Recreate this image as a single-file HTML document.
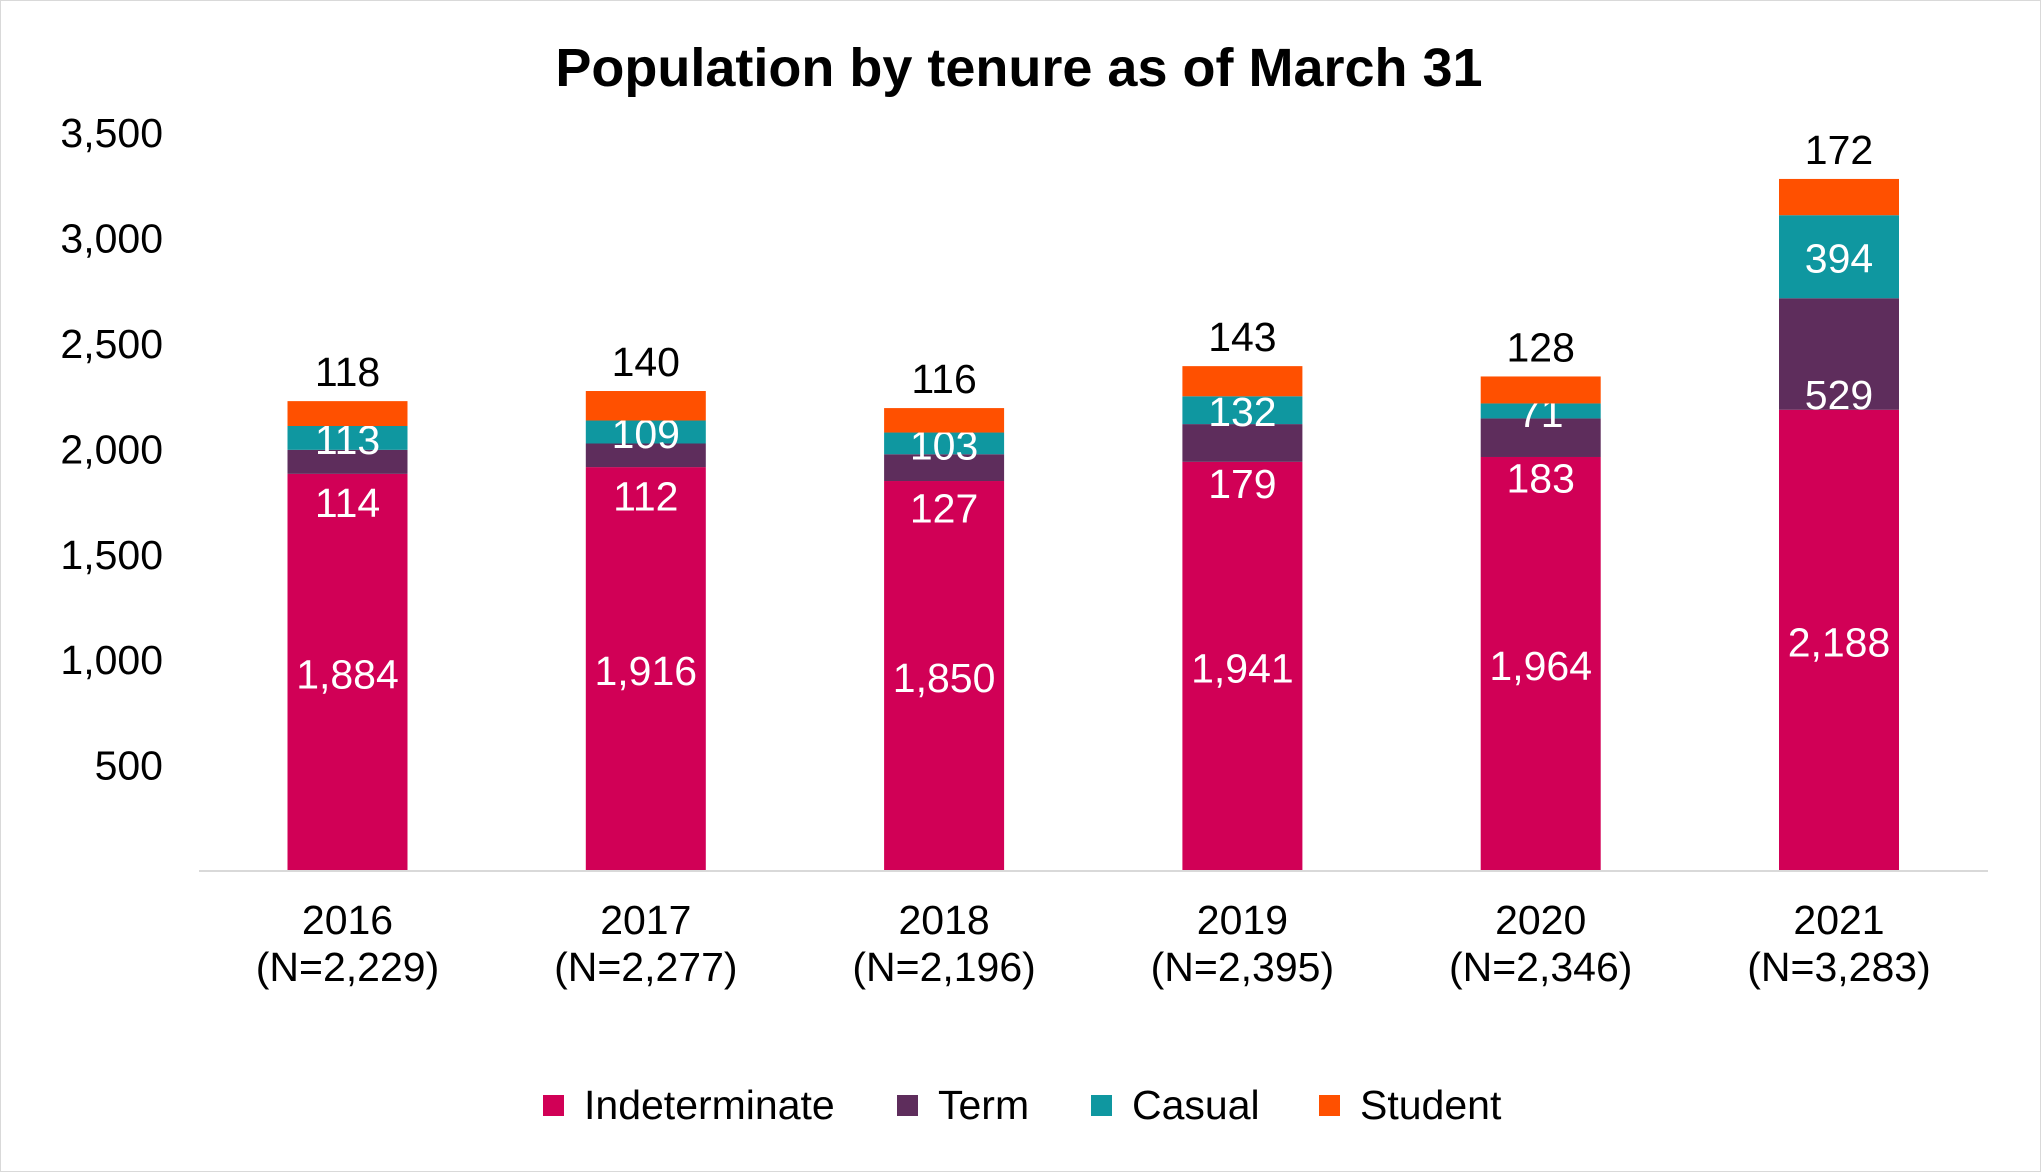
<!DOCTYPE html>
<html><head><meta charset="utf-8"><style>
html,body{margin:0;padding:0;background:#fff}
svg{display:block;font-family:"Liberation Sans",Arial,sans-serif}
</style></head><body>
<svg id="chart" width="2041" height="1172" viewBox="0 0 2041 1172">
<rect x="0.5" y="0.5" width="2040" height="1171" fill="#fff" stroke="#d9d9d9"/>
<text x="1019" y="86" text-anchor="middle" font-size="54" font-weight="bold" fill="#000">Population by tenure as of March 31</text>
<g id="yaxis"></g>
<g id="bars"></g>
<line x1="199" y1="871" x2="1988" y2="871" stroke="#d9d9d9" stroke-width="2"/>
<g id="xaxis"></g>
<g id="legend"></g>
</svg>
<script>
const categories = ["2016","2017","2018","2019","2020","2021"];
const totals = ["2,229","2,277","2,196","2,395","2,346","3,283"];
const indeterminate = [1884,1916,1850,1941,1964,2188];
const term = [114,112,127,179,183,529];
const casual = [113,109,103,132,71,394];
const student = [118,140,116,143,128,172];
const yTicks = [500,1000,1500,2000,2500,3000,3500];
const seriesNames = ["Indeterminate","Term","Casual","Student"];
const colors = ["#D10056","#5E2D5C","#0F97A0","#FF5000"];

const NS="http://www.w3.org/2000/svg";
const y0=871, pxPer=105.4/500;
const yScale=v=>y0-v*pxPer;
const xScale=i=>347.5+i*298.3;
const bw=120;
const FS=41;
function mk(tag,attrs,parent,text){const e=document.createElementNS(NS,tag);for(const k in attrs)e.setAttribute(k,attrs[k]);if(text!==undefined)e.textContent=text;parent.appendChild(e);return e;}
const fmt=v=>v.toLocaleString("en-US");

const ya=document.getElementById("yaxis");
yTicks.forEach(t=>{
  const e=mk("text",{x:163,y:yScale(t)+14,"text-anchor":"end","font-size":FS,fill:"#000"},ya,fmt(t));
  
  
});

const bg=document.getElementById("bars");
const series=[indeterminate,term,casual,student];
categories.forEach((c,i)=>{
  let base=0;
  const cx=xScale(i);
  series.forEach((s,k)=>{
    const v=s[i];
    const top=yScale(base+v), bot=yScale(base);
    const r=mk("rect",{x:cx-bw/2,y:top,width:bw,height:bot-top,fill:colors[k]},bg);
    
    
    let ly, col="#fff";
    if(k===0||k===2) ly=(top+bot)/2+16;
    else if(k===1) ly=(top+bot)/2+16+39;
    else {ly=top-15; col="#000";}
    const t=mk("text",{x:cx,y:ly,"text-anchor":"middle","font-size":FS,fill:col},bg,fmt(v));
    
    
    base+=v;
  });
});

const xa=document.getElementById("xaxis");
categories.forEach((c,i)=>{
  const t1=mk("text",{x:xScale(i),y:934,"text-anchor":"middle","font-size":FS,fill:"#000"},xa,c);
  
  
  const t2=mk("text",{x:xScale(i),y:981,"text-anchor":"middle","font-size":FS,fill:"#000"},xa,"(N="+totals[i]+")");
  
  
});

const lg=document.getElementById("legend");
const lx=[543,897,1091,1319];
seriesNames.forEach((n,k)=>{
  const g=mk("g",{},lg);
  
  
  mk("rect",{x:lx[k],y:1095,width:21,height:21,fill:colors[k]},g);
  mk("text",{x:lx[k]+41,y:1119,"font-size":FS,fill:"#000"},g,n);
});
</script>
</body></html>
